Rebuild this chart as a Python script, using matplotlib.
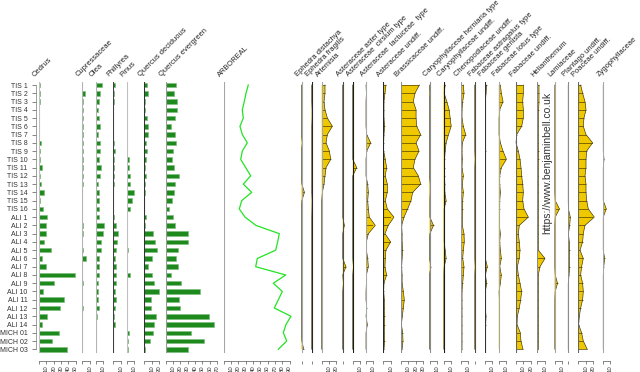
import matplotlib
matplotlib.use("Agg")
import matplotlib.pyplot as plt
import numpy as np

plt.rcParams["font.family"] = ["Liberation Sans", "DejaVu Sans"]

samples = [f"TIS {i}" for i in range(1, 17)] + [f"ALI {i}" for i in range(1, 15)] + ["MICH 01", "MICH 02", "MICH 03"]

# tree taxa (%)
cedrus = [1, 1, 1.5, 0.5, 0, 0, 0.5, 2.5, 2, 2, 4.5, 2, 2.5, 7, 1.5, 5.5,
          10.5, 9, 9, 7.2, 16.5, 4.5, 9, 49, 20.5, 6, 34, 28.5, 11.5, 4.5,
          27.5, 18, 38.5]
cupressaceae = [0, 3.4, 1.2, 0.8, 1.2, 0.8, 0.8, 0.8, 0.8, 0.8, 0.8, 0.5, 0.8, 0, 0, 0,
                0, 0.8, 0.8, 0, 1.6, 5, 0, 0, 0.8, 0, 0, 0.5, 0, 0,
                0, 0, 0]
olea = [7.8, 6, 4.6, 3.4, 4.6, 6, 3.4, 6, 5.5, 3.8, 6.4, 5.5, 3, 4.6, 3.8, 3.8,
        3.8, 10.4, 9, 7.2, 7.2, 4.6, 3.8, 4.2, 2.2, 2.6, 2.2, 3.8, 0.8, 0.5,
        0, 0, 0]
phillyrea = [2.5, 1.6, 0.8, 0, 0, 0, 0, 1.6, 2.2, 0.8, 1.3, 0.8, 0.8, 0, 0, 0,
             0.8, 3.8, 6.4, 4.5, 3.8, 2.2, 3.4, 4.2, 3.4, 2.2, 3.4, 2.2, 0.6, 2.2,
             0, 0, 0]
pinus = [0, 0, 0, 0, 0, 0, 0, 0.8, 0, 2.5, 3.4, 4.8, 4.2, 10.2, 7.2, 4.8,
         0.8, 0.8, 0, 0, 1.6, 0, 0, 4.2, 0, 0.5, 0.5, 0, 0, 0,
         2.5, 1.3, 2.2]
quercus_dec = [4.2, 4.6, 0.5, 0.5, 4.2, 4.6, 5, 2.5, 3, 2.5, 1.6, 2.5, 1.6, 1.6, 0, 0,
               2.8, 0.8, 12.2, 14.5, 16.8, 10.5, 5.4, 10, 13.6, 19.5, 9.6, 8.7, 15.5, 12.8,
               11.8, 7.6, 1.3]
quercus_ev = [13.5, 11.7, 14.8, 15.8, 13, 7.2, 12.2, 14.5, 10, 8.6, 10.8, 17.6, 12.2, 11.3, 8.1, 4.6,
              10, 12.7, 30.8, 30.8, 16.8, 14.5, 16.8, 7.2, 21.3, 47, 17.6, 20, 59.3, 65.2,
              34.4, 52.5, 29.8]
arboreal = [33.7, 30.6, 28.3, 25.6, 26.9, 22.4, 25.6, 32.4, 25.6, 23.4, 30.2, 37, 26.9, 38.4, 24.8, 21.5,
            29.3, 44.2, 75.9, 73.7, 71, 46, 43.8, 84.6, 67.8, 80, 74.6, 69.1, 91.8, 85,
            81.4, 86, 74.6]

# herb taxa (%)
ephedra_dist = [0, 0, 0, 0, 0, 0, 0, 1, 0, 0, 0, 0, 0.5, 4, 0.5, 0,
                0, 0, 0, 0, 0, 0, 0, 0, 0, 0, 0, 0, 0, 0,
                0, 0.5, 3]
ephedra_frag = [0, 0, 0, 0.5, 0.5, 0, 0, 0, 0, 0, 0, 0, 0, 0, 0.5, 0.3,
                0, 0, 0, 0, 0, 0, 0, 0, 0, 0, 0, 0, 0, 0,
                0, 0, 0]
artemisia = [4.5, 4.5, 3.2, 4.5, 7.7, 14.5, 7.7, 5.9, 10.5, 12.3, 5.9, 4.5, 3.2, 0.9, 0, 0,
             0, 0, 0, 0, 0, 0, 0, 0, 0, 0, 0, 0, 0, 0,
             0, 0, 0]
aster = [0, 0, 0, 0, 0, 0, 0, 0, 0, 0, 0, 0, 0, 0, 0, 0,
         0, 2.3, 0, 0, 0, 0, 4.5, 0, 1, 0, 0, 0, 0, 0,
         0, 0, 0]
cirsium = [0, 0, 0, 0, 0, 0, 0, 0, 0, 0, 5.5, 0, 0, 0, 0, 0,
           0, 0, 0, 0, 0, 0, 1, 0, 0, 0, 0, 0, 0, 0,
           0, 0, 0]
lactuceae = [0, 0.5, 0, 0, 0, 0, 1, 6.4, 1, 0, 0, 0, 2.3, 3.2, 2.3, 3.2,
             4.5, 12.7, 3.2, 0.5, 0.5, 2.3, 3.2, 0.5, 0.5, 0, 0, 1, 0, 1.8,
             0, 0, 0]
asteraceae = [3.6, 2.3, 0.9, 0.9, 0.9, 1.8, 0.9, 0.5, 0.5, 2.7, 4.5, 2.7, 5.5, 5.5, 2.7, 5.5,
              14.5, 6.8, 2.3, 10, 3.6, 2.7, 2.3, 4.5, 0.9, 0.5, 1.4, 1.4, 1.8, 1.8,
              1.4, 1.8, 0.9]
brassicaceae = [25, 19, 16.8, 20.5, 20.5, 21.4, 26.8, 20.5, 24.5, 19, 16.8, 23.6, 26.8, 15.9, 13.6, 9.1,
                4.1, 0.9, 1.5, 1.5, 2.3, 1.5, 0.9, 1.5, 1.5, 3.2, 4.5, 3.2, 1.8, 0.5,
                2.3, 2.7, 1.5]
caryo_hern = [0, 0.5, 0, 0, 0, 0, 0, 0, 0, 0, 0, 0, 0.9, 0.9, 0.5, 0.5,
              0.5, 5.5, 0.5, 0, 0, 0, 1.8, 0, 0, 0, 0, 0, 0, 0,
              0, 0, 0]
caryo_undiff = [2.3, 0.9, 4.5, 7.7, 9.1, 10.5, 6.8, 3.6, 2.3, 1.4, 1.4, 1.4, 1.8, 1.8, 3.6, 0.9,
                0.9, 0.9, 0.9, 0.9, 2.3, 3.6, 0.9, 0.5, 0.5, 0.5, 0.5, 0.5, 0.5, 0.5,
                0.5, 0.5, 0.5]
chenopod = [3.2, 4.1, 2.3, 1.4, 1.4, 3.2, 6.4, 1.8, 1.4, 1.8, 1.4, 3.2, 1.8, 3.2, 2.3, 2.3,
            1.8, 1.8, 4.1, 4.5, 3.2, 2.3, 4.1, 3.2, 2.3, 1.4, 1.4, 1.4, 1.4, 1.4,
            1.4, 1.4, 1.4]
fab_astragalus = [0.4, 0.4, 0.4, 0.4, 0.4, 0.4, 0.4, 0.4, 0.4, 1, 0.4, 0.4, 0.4, 0.4, 0.4, 0.4,
                  0.4, 0.4, 0.4, 0.4, 0.4, 0.4, 1, 0.4, 0.4, 0.4, 0.4, 0.4, 0.4, 0.4,
                  0.4, 0.4, 0.4]
fab_genista = [2.3, 1.4, 0.5, 0.5, 0.5, 0.5, 0.5, 0.5, 0.9, 0.5, 0.5, 0.5, 0.5, 0.5, 0.5, 0.5,
               0.5, 0.5, 0.5, 0.5, 0.5, 0.5, 3.2, 0.5, 2.3, 0.5, 0.5, 0.5, 1.4, 0.9,
               0.5, 0.5, 0.5]
fab_lotus = [2.3, 3.6, 5.9, 1.4, 0.5, 0.5, 0.5, 2.3, 5.9, 10.5, 3.6, 1.4, 1.4, 2.3, 1.4, 1.4,
             0.9, 0.9, 2.3, 1.4, 2.3, 3.6, 1.4, 3.6, 2.3, 0.5, 0.9, 0.9, 0.9, 0.9,
             0.9, 0.9, 0.9]
fab_undiff = [10, 10, 9.1, 10, 10, 7.7, 0.9, 0, 3.2, 5.5, 6.8, 7.7, 9.1, 10, 9.1, 10.9,
              16.8, 4.5, 3.2, 4.5, 5.5, 4.5, 1.8, 3.2, 5.5, 7.7, 6.4, 4.5, 1.8, 1.4,
              5.9, 6.8, 9.5]
helianthemum = [2.3, 2.3, 2.3, 1.8, 1.4, 1.4, 1.4, 1.4, 1.8, 1.8, 1.4, 1.4, 1.4, 1.4, 1.4, 1.4,
                1.4, 1.4, 1.4, 1.4, 1.4, 10.5, 3.6, 1.4, 1.4, 1.4, 1.4, 1.4, 1.4, 1.4,
                1.4, 1.4, 1.4]
lamiaceae = [0.5, 0.5, 0.5, 0.5, 0.5, 0.5, 0.5, 0.5, 0.5, 0.5, 0.5, 0.5, 0.5, 0.5, 1, 6.8,
             1, 0.5, 0.5, 0.5, 0.5, 0.5, 0.5, 1, 4.1, 1, 0.5, 0.5, 0.5, 0.5,
             0.5, 0.5, 0.5]
plantago = [0.3, 0.3, 0.3, 0.3, 0.3, 0.3, 0.3, 0.3, 0.3, 0.3, 0.3, 0.3, 0.3, 0.3, 0.3, 0.5,
            3.2, 2.3, 0.5, 1.8, 2.3, 1.8, 2.3, 1.4, 0.3, 0.3, 0.3, 0.3, 0.3, 0.3,
            0.3, 0.3, 0.3]
poaceae = [3.2, 5.9, 9.1, 10.5, 7.7, 6.8, 10.5, 19.5, 11.4, 10.5, 10.5, 9.1, 10.5, 10.5, 11.4, 13.6,
           21.8, 9.1, 6.8, 5.9, 2.3, 6.8, 4.5, 3.2, 5.9, 6.8, 5.9, 3.2, 1.4, 0.5,
           4.5, 6.8, 12.2]
zygophyll = [0.3, 0.3, 0.3, 0.3, 0.3, 0.3, 0.3, 0.3, 0.3, 1.4, 0.3, 0.3, 0.3, 0.3, 0.3, 4.5,
             0.3, 0.3, 0.3, 0.3, 0.3, 2.3, 1, 0.3, 0.3, 0.3, 0.3, 0.3, 0.3, 0.3,
             0.3, 0.3, 0.3]

# (label, values, baseline px, axis max, baseline grey)
trees = [
    ("Cedrus", cedrus, 39.0, 50, "0.75"),
    ("Cupressaceae", cupressaceae, 82.3, 10, "0.7"),
    ("Olea", olea, 96.0, 10, "0.7"),
    ("Phillyrea", phillyrea, 113.3, 10, "0.25"),
    ("Pinus", pinus, 126.7, 10, "0.75"),
    ("Quercus deciduous", quercus_dec, 144.3, 20, "0.2"),
    ("Quercus evergreen", quercus_ev, 165.7, 70, "0.6"),
]
herbs = [
    ("Ephedra distachya", ephedra_dist, 301.5, 0, "0.65"),
    ("Ephedra fragilis", ephedra_frag, 311.7, 0, "0.15"),
    ("Artemisia", artemisia, 321.7, 20, "0.65"),
    ("Asteraceae aster type", aster, 342.7, 0, "0.3"),
    ("Asteraceae  cirsium type", cirsium, 352.7, 10, "0.1"),
    ("Asteraceae  lactuceae  type", lactuceae, 366.0, 10, "0.65"),
    ("Asteraceae undiff.", asteraceae, 383.3, 10, "0.15"),
    ("Brassicaceae undiff.", brassicaceae, 401.0, 30, "0.55"),
    ("Caryophyllaceae herniaria type", caryo_hern, 429.5, 10, "0.55"),
    ("Caryophyllaceae undiff.", caryo_undiff, 443.5, 10, "0.1"),
    ("Chenopodiaceae undiff.", chenopod, 461.0, 10, "0.6"),
    ("Fabaceae astragalus type", fab_astragalus, 474.5, 0, "0.3"),
    ("Fabaceae genista", fab_genista, 485.0, 10, "0.2"),
    ("Fabaceae lotus type", fab_lotus, 498.7, 10, "0.65"),
    ("Fabaceae undiff.", fab_undiff, 516.0, 20, "0.4"),
    ("Helianthemum", helianthemum, 537.3, 10, "0.55"),
    ("Lamiaceae", lamiaceae, 554.5, 10, "0.65"),
    ("Plantago undiff.", plantago, 568.0, 0, "0.55"),
    ("Poaceae undiff.", poaceae, 578.3, 20, "0.4"),
    ("Zygophyllaceae", zygophyll, 603.0, 10, "0.65"),
]

W, H = 640, 372
TOP, BOTTOM = 81.7, 352.6
PX = 0.735  # pixels per percent
ypos = np.arange(len(samples))

fig = plt.figure(figsize=(W / 100, H / 100), dpi=100)


def column(name, x0, axmax, grey):
    span = max(axmax, 6)
    ax = fig.add_axes([x0 / W, 1 - BOTTOM / H, span * PX / W, (BOTTOM - TOP) / H])
    ax.set_xlim(0, span)
    ax.set_ylim(len(samples) - 1 + 0.4, -0.4)
    ax.patch.set_visible(False)
    for s in ("top", "right", "left"):
        ax.spines[s].set_visible(False)
    sp = ax.spines["bottom"]
    sp.set_position(("outward", 6))
    sp.set_linewidth(0.5)
    sp.set_color("#555555")
    if axmax > 0:
        sp.set_bounds(0, axmax)
    else:
        sp.set_visible(False)
    ticks = list(range(0, axmax + 1, 10))
    ax.set_xticks(ticks)
    ax.set_xticklabels(["" if t == 0 else str(t) for t in ticks], rotation=90)
    ax.tick_params(axis="x", length=2.2, width=0.5, color="#555555",
                   labelsize=4.3, labelcolor="#333333", pad=1)
    ax.set_yticks([])
    ax.axvline(0, color=grey, lw=0.8, zorder=4)
    fig.text((x0 - 2.5) / W, 1 - 78 / H, name, rotation=45, rotation_mode="anchor",
             ha="left", va="bottom", fontsize=5.4, color="#222222")
    return ax


for i, (name, vals, x0, axmax, grey) in enumerate(trees):
    ax = column(name, x0, axmax, grey)
    v = np.array(vals, dtype=float)
    m = v > 0
    ax.barh(ypos[m], v[m], height=0.55, color="#1E8A1E", edgecolor="#7DBE7D",
            linewidth=0.5, clip_on=False, zorder=2)
    if i == 0:
        ax.spines["left"].set_visible(True)
        ax.spines["left"].set_position(("outward", 2.4))
        ax.spines["left"].set_bounds(0, len(samples) - 1)
        ax.spines["left"].set_linewidth(0.5)
        ax.spines["left"].set_color("#777777")
        ax.set_yticks(ypos)
        ax.set_yticklabels(samples)
        ax.tick_params(axis="y", length=2.9, width=0.5, color="#555555",
                       labelsize=5, labelcolor="#333333", pad=3)

ax = column("ARBOREAL", 223.5, 90, "0.65")
ax.plot(arboreal, ypos, color="#22E422", lw=0.9, clip_on=False, zorder=3)

for name, vals, x0, axmax, grey in herbs:
    ax = column(name, x0, axmax, grey)
    v = np.array(vals, dtype=float)
    ax.fill_betweenx(ypos, 0, v, facecolor="#F0C800", edgecolor="none",
                     linewidth=0, clip_on=False, zorder=2)
    ax.plot(v, ypos, color="#3A3200", lw=0.45, clip_on=False, zorder=3)
    ax.hlines(ypos[v > 0], 0, v[v > 0], color="#3A3200", lw=0.45, zorder=3)

fig.text(547.5 / W, 1 - 163 / H, "https://www.benjaminbell.co.uk", rotation=90,
         ha="center", va="center", fontsize=7.5, color="#333333",
         bbox=dict(facecolor="white", edgecolor="none", pad=0.6), zorder=10)

fig.savefig("out.png", dpi=100)
